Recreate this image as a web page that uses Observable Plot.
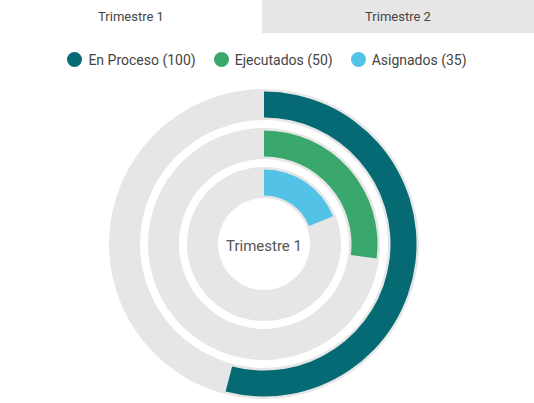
<!DOCTYPE html>
<html>
<head>
<meta charset="utf-8">
<script src="https://cdn.jsdelivr.net/npm/d3@7"></script>
<script src="https://cdn.jsdelivr.net/npm/@observablehq/plot@0.6"></script>
<style>
  html, body { margin: 0; padding: 0; background: #fff; font-family: Roboto, "Noto Sans", sans-serif; overflow: hidden; }
  .tabs { display: flex; height: 33px; width: 534px; }
  .tab { display: flex; align-items: center; justify-content: center; font-size: 13px; color: #444; }
  .tab.active { width: 262px; background: #fff; }
  .tab.inactive { width: 272px; background: #e6e6e6; }
  .legend { display: flex; justify-content: center; align-items: center; height: 53px; margin-top: 0; padding-left: 0; }
  .legend .item { display: flex; align-items: center; margin: 0 9px; font-size: 14px; color: #444; }
  .legend .sw { width: 15px; height: 15px; border-radius: 50%; margin-right: 6px; }
  #chart svg { display: block; }
</style>
</head>
<body>
<div class="tabs"><div class="tab active">Trimestre 1</div><div class="tab inactive">Trimestre 2</div></div>
<div class="legend" id="legend"></div>
<div id="chart"></div>
<script>
const tabLabels = ["Trimestre 1", "Trimestre 2"];
const categories = ["En Proceso", "Ejecutados", "Asignados"];
const values = [100, 50, 35];
const colors = ["#066a74", "#3aa86d", "#52c2e7"];
const centerLabel = "Trimestre 1";

const total = d3.sum(values);
const data = categories.map((c, i) => ({name: c, value: values[i], color: colors[i]}));

// legend
const legend = document.getElementById("legend");
data.forEach(d => {
  const it = document.createElement("div");
  it.className = "item";
  it.innerHTML = `<span class="sw" style="background:${d.color}"></span><span>${d.name} (${d.value})</span>`;
  legend.appendChild(it);
});

const W = 534, H = 318;
const cx = 264, cy = 158;

const arcMark = (index, scales) => {
  const g = d3.create("svg:g").attr("transform", `translate(${cx},${cy})`);
  const bw = scales.y.bandwidth ? scales.y.bandwidth() : 31.5;
  const arc = d3.arc();
  for (const d of data) {
    const r0 = scales.y(d.name);
    g.append("path")
      .attr("fill", "#e6e6e6")
      .attr("d", arc({innerRadius: r0, outerRadius: r0 + bw, startAngle: 0, endAngle: 2 * Math.PI}));
    g.append("path")
      .attr("fill", d.color)
      .attr("d", arc({innerRadius: r0 + 2.5, outerRadius: r0 + bw - 2.5, startAngle: scales.x(0), endAngle: scales.x(d.value)}));
  }
  g.append("text")
    .attr("text-anchor", "middle")
    .attr("dy", "0.35em")
    .attr("y", 2)
    .attr("font-size", 15)
    .attr("font-family", "Roboto, sans-serif")
    .attr("fill", "#555")
    .text(centerLabel);
  return g.node();
};

const chart = Plot.plot({
  width: W,
  height: H,
  margin: 0,
  x: {domain: [0, total], range: [0, 2 * Math.PI], axis: null},
  y: {type: "band", domain: ["Asignados", "Ejecutados", "En Proceso"], range: [45, 156], paddingInner: 0.2, paddingOuter: 0, axis: null},
  style: {background: "transparent"},
  marks: [
    Plot.barX(data, {x: "value", y: "name", fillOpacity: 0}),
    arcMark
  ]
});
document.getElementById("chart").appendChild(chart);
</script>
</body>
</html>
